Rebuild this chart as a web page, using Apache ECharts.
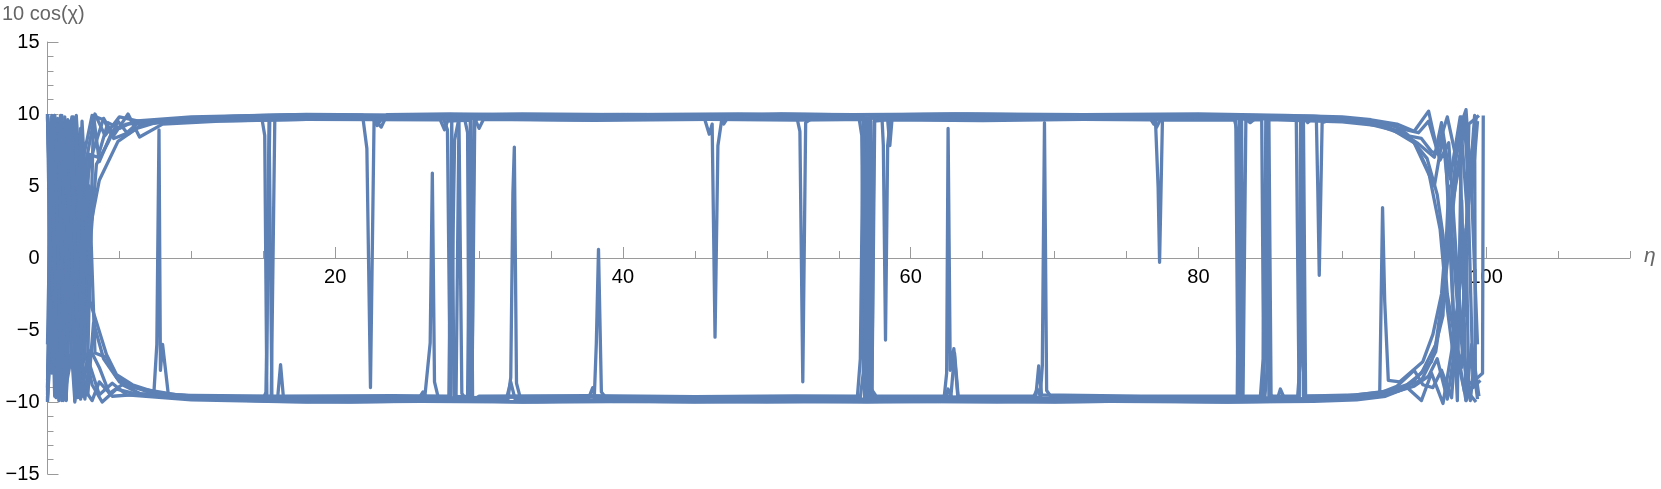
<!DOCTYPE html>
<html>
<head>
<meta charset="utf-8">
<title>10 cos(χ) vs η</title>
<script src="https://cdn.jsdelivr.net/npm/echarts@6/dist/echarts.min.js"></script>
<style>
  html, body { margin: 0; padding: 0; background: #fff; }
  #chart { width: 1661px; height: 489px; }
</style>
</head>
<body>
<div id="chart"></div>
<script>
// axis ticks
const xMin = 0
const xMax = 110
const yMin = -15
const yMax = 15
const xLabelValues = [20, 40, 60, 80, 100]

// trajectories [eta, 10 cos(chi)]
const trajA = [[0,10],[0.5,-9.6],[0.9,6.0],[1.3,-9.8],[1.8,9.8],[2.3,-8.5],[2.6,-6.5],[3.0,2.3],[3.6,5.4],[4.9,8.1],[6.2,9.0],[8.2,9.6],[13,9.85],[17,9.95],[21.9,9.92],[22.2,7.6],[22.3,7.6],[22.45,-9.0],[22.7,9.6],[23.2,9.1],[23.6,9.95],[28,10.0],[34,9.9],[40,9.98],[45.6,9.92],[46.0,8.6],[46.2,9.3],[46.4,-5.5],[46.6,7.8],[46.9,9.85],[51,10.0],[57,9.92],[63,10.0],[69,9.93],[77.0,9.95],[77.2,4.9],[77.3,-0.3],[77.5,9.6],[78,9.95],[83,9.9],[88,9.85],[91,9.65],[93.5,9.3],[94.5,8.6],[95.9,6.9],[96.6,4.4],[97.0,1.6],[97.3,-2.5],[97.8,-5.5],[98.3,-7.6],[98.6,2.0],[98.8,-9.4],[99.3,-10.0]]
const trajB = [[0,-9.0],[0.4,9.8],[0.8,-9.9],[1.2,3.0],[1.5,9.5],[2.0,-9.7],[2.5,8.0],[2.95,-3.0],[4.1,-6.7],[4.8,-8.1],[5.9,-8.8],[7.4,-9.3],[7.6,-6.0],[7.75,8.9],[7.85,-7.8],[8.0,-6.0],[8.4,-9.5],[11,-9.8],[16,-9.95],[21,-10.0],[26.2,-9.92],[26.6,-5.9],[26.75,5.9],[26.9,-8.6],[27.2,-9.85],[33,-10.0],[38.0,-9.9],[38.15,-5.9],[38.3,0.6],[38.5,-9.3],[39,-9.95],[45,-10.0],[51,-9.93],[57,-10.0],[62.3,-9.95],[62.5,-8.0],[62.6,9.0],[62.75,-7.8],[63.0,-6.3],[63.3,-9.9],[70,-10.0],[76,-9.92],[82,-10.0],[88,-9.9],[91,-9.7],[92.6,-9.55],[92.8,3.5],[92.95,-3.0],[93.2,-8.5],[94.0,-8.6],[95.6,-7.2],[96.3,-5.3],[96.9,-2.5],[97.1,0.0],[97.6,3.5],[98.2,6.8],[98.5,-4.0],[98.8,9.3],[99.5,9.9]]
const trajC = [[0,4.7],[0.45,4.9],[1.0,2.0],[1.4,-6.5],[1.8,9.6],[2.3,-9.0],[2.8,-7.0],[3.2,9.9],[3.6,6.7],[4.5,8.8],[5.5,9.3],[8,9.5],[12,9.65],[14.9,9.7],[15.1,8.5],[15.25,-9.8],[15.55,-9.9],[15.8,9.6],[16.3,9.72],[21,9.68],[27.5,9.75],[27.8,8.9],[28.0,-9.9],[28.3,8.2],[28.6,9.7],[35,9.75],[42,9.65],[52.1,9.72],[52.3,8.8],[52.5,-8.6],[52.7,9.4],[53.2,9.75],[60,9.68],[67,9.76],[74,9.66],[80,9.72],[88.2,9.62],[88.3,4.7],[88.4,-1.2],[88.6,9.4],[89.2,9.6],[92,9.35],[94,8.8],[95.2,8.0],[96.4,7.0],[96.9,9.4],[97.5,5.5],[98.2,9.8],[98.7,3.0],[99.2,9.9],[99.25,-8.3]]
const trajD = [[0,-9.5],[0.5,9.9],[0.9,-9.6],[1.3,7.5],[1.7,9.8],[2.1,-9.7],[2.5,-6.5],[2.9,5.0],[3.3,-6.6],[4.1,-6.9],[4.8,-8.3],[6,-9.0],[9,-9.5],[12,-9.7],[15.0,-9.75],[15.2,-9.3],[15.45,9.6],[15.7,9.8],[21,9.85],[29,9.78],[36,9.85],[44,9.8],[50,9.86],[56.4,9.8],[56.6,8.5],[56.8,-9.9],[57.0,-9.5],[57.3,-9.75],[63,-9.8],[70,-9.72],[78,-9.8],[84.3,-9.75],[84.5,-7.0],[84.7,9.75],[85,9.8],[90,9.7],[93,9.2],[95,8.1],[96,6.0],[96.8,2.0],[97.3,-3.5],[97.9,-8.2],[98.3,4.0],[98.6,-9.9],[99.0,-6.0],[99.5,-9.6]]
const trajE = [[0,9.9],[0.3,-8.0],[0.7,9.7],[1.1,-9.9],[1.6,-7.2],[2.0,9.9],[2.4,3.0],[3.0,6.9],[3.9,9.7],[4.6,8.5],[5.6,10.0],[6.4,8.4],[8,9.3],[12,9.5],[18,9.62],[24,9.68],[29.0,9.65],[29.2,8.7],[29.3,-9.8],[29.5,-9.6],[29.7,9.6],[30,9.66],[37,9.6],[45,9.68],[53,9.62],[57.0,9.66],[57.1,-9.8],[57.3,-9.9],[57.5,9.6],[57.7,9.65],[64,9.6],[72,9.68],[82.5,9.63],[82.7,8.8],[82.9,-9.8],[83.2,-9.9],[88,-9.88],[92,-9.65],[94,-9.2],[95.5,-8.0],[96.5,-6.0],[97.2,-1.0],[97.6,4.0],[98.1,8.8],[98.6,10.3],[99.0,4.5],[99.4,9.5]]
const trajF = [[0,-8.5],[0.5,-1.0],[0.9,9.9],[1.3,-9.8],[1.7,8.5],[2.1,-6.5],[2.6,-9.8],[3.0,-6.4],[3.6,-7.6],[4.3,-9.4],[5.2,-8.8],[6.5,-9.45],[9,-9.55],[14,-9.65],[16.0,-9.7],[16.2,-7.4],[16.4,-9.7],[24,-9.66],[28.2,-9.72],[28.4,-9.5],[28.6,9.6],[28.8,-9.4],[29.0,-9.7],[36,-9.65],[44,-9.72],[51,-9.66],[56.5,-9.7],[56.7,-8.0],[56.9,9.6],[57.1,-8.8],[57.4,-9.7],[64,-9.65],[69.0,-9.7],[69.15,-7.5],[69.3,9.4],[69.45,-9.2],[69.8,-9.7],[76,-9.66],[83,-9.72],[87.0,-9.7],[87.1,9.7],[87.3,9.6],[87.45,-9.6],[90,-9.6],[93,-9.3],[94.8,-8.7],[96.2,-7.2],[97.0,-4.0],[97.4,5.0],[97.8,-6.0],[98.5,-9.3],[99.0,-9.8]]
const trajG = [[0,9.7],[0.6,-8.8],[1.0,9.9],[1.5,-4.0],[1.9,-9.9],[2.4,9.5],[2.9,0.0],[3.4,6.5],[4.2,8.0],[4.9,9.5],[5.6,8.6],[6.6,9.3],[9,9.6],[14,9.78],[20,9.88],[27,9.82],[32,9.9],[40,9.84],[47,9.9],[56.7,9.86],[56.9,-9.6],[57.1,-9.85],[57.2,9.7],[57.5,9.9],[58.0,9.85],[58.1,7.8],[58.25,-5.7],[58.4,7.8],[58.6,9.8],[66,9.88],[74,9.82],[83.0,9.86],[83.1,-9.6],[83.3,9.7],[84.0,9.85],[86.8,9.8],[87.0,-9.8],[87.2,9.6],[88,9.8],[91,9.5],[93.5,8.9],[95.0,8.0],[96.4,5.0],[97.0,8.5],[97.6,2.0],[98.1,-4.5],[98.7,-8.8],[99.2,-8.5]]
const trajH = [[0,-9.7],[0.4,-4.0],[0.9,8.0],[1.3,-9.9],[1.8,9.0],[2.3,-7.5],[2.8,-9.5],[3.2,-4.5],[3.9,-7.0],[5.0,-8.6],[7,-9.3],[10,-9.6],[15,-9.8],[22,-9.86],[30,-9.82],[32.0,-9.85],[32.2,-8.3],[32.35,4.5],[32.45,7.7],[32.6,-8.7],[32.9,-9.85],[40,-9.88],[48,-9.82],[55,-9.88],[62,-9.84],[70,-9.88],[78,-9.82],[84.6,-9.85],[84.8,-7.5],[84.9,9.6],[85.05,-9.5],[85.4,-9.85],[90,-9.75],[93,-9.5],[95,-8.9],[96,-8.2],[96.6,-7.0],[97.3,-9.8],[97.9,-5.8],[98.6,-9.9],[99.2,-8.5],[99.75,-8.0],[99.8,9.9]]
const trajI = [[0,10],[0.4,3.5],[0.8,-9.9],[1.2,9.8],[1.6,-5.0],[2.0,9.7],[2.4,-9.6],[2.7,6.8],[3.3,10.0],[4.0,8.5],[5.0,9.8],[7,9.35],[11,9.5],[15,9.58],[18,9.62],[27.3,9.6],[27.6,8.9],[27.8,9.5],[29.4,9.58],[29.5,-9.8],[29.65,9.8],[30.0,9.0],[30.3,9.62],[38,9.56],[46,9.62],[52,9.58],[57.2,9.62],[57.3,-9.7],[57.45,9.5],[58.4,9.6],[58.55,7.8],[58.7,9.6],[65,9.55],[72,9.62],[76.8,9.6],[77.1,9.1],[77.35,9.6],[82.6,9.58],[82.75,-9.9],[82.9,9.7],[83.5,9.6],[84.4,9.6],[84.55,-9.8],[84.7,9.6],[85.5,9.6],[90,9.45],[92.5,9.2],[94.5,8.5],[95.5,8.3],[96.2,7.4],[97.2,7.0],[98.0,-9.9],[98.3,9.8],[98.9,7.0],[99.4,-6.0]]
const trajJ = [[0,-9.9],[0.5,9.9],[0.9,-6.5],[1.3,-9.5],[1.7,9.0],[2.0,2.0],[2.5,-9.0],[3.1,-9.9],[3.6,-8.6],[4.5,-9.6],[6.5,-9.45],[10,-9.55],[16,-9.6],[24,-9.56],[27.9,-9.6],[28.1,9.7],[28.25,-9.6],[28.6,-9.62],[29.2,-9.6],[29.4,9.8],[29.55,-9.9],[30,-9.6],[37.5,-9.56],[45,-9.62],[52,-9.58],[56.3,-9.6],[56.5,-7.0],[56.7,9.7],[56.9,-9.2],[57.0,9.5],[57.2,-9.0],[57.6,-9.6],[62.8,-9.58],[63.05,-6.6],[63.3,-9.6],[68.7,-9.6],[68.9,-7.5],[69.1,-9.5],[76,-9.6],[82.7,-9.58],[82.85,9.7],[83.0,-9.6],[84.4,-9.6],[84.6,-6.8],[84.75,9.6],[84.9,-9.6],[86.9,-9.6],[87.05,-7.5],[87.15,9.6],[87.3,-9.6],[91,-9.5],[93.5,-9.2],[95.5,-8.5],[96.5,-6.5],[97.0,-3.0],[97.5,1.5],[97.9,5.5],[98.5,9.2],[98.8,5.0],[99.3,9.9]]
const trajK = [[0,9.8],[0.6,5.0],[1.0,-9.9],[1.4,9.6],[1.8,6.5],[2.2,-8.0],[2.5,7.0],[3.1,9.9],[3.9,9.6],[4.6,8.3],[5.4,8.6],[6.2,9.3],[8.5,9.5],[12,9.68],[18,9.76],[22.6,9.74],[22.9,9.2],[23.3,9.75],[30,9.72],[37,9.78],[46.8,9.74],[47.0,9.3],[47.3,9.76],[55,9.72],[62,9.78],[70,9.74],[76.6,9.76],[76.9,9.3],[77.2,9.75],[83.2,9.7],[83.6,9.4],[84.0,9.72],[87.4,9.74],[87.6,9.4],[87.9,9.7],[91,9.5],[93,9.35],[94,9.0],[95.3,8.7],[96.0,9.5],[96.8,6.8],[97.4,8.0],[98.0,-1.0],[98.4,-6.2],[98.9,-9.9],[99.2,-7.0]]
const trajL = [[0,-9.2],[0.3,9.8],[0.8,7.0],[1.2,-9.5],[1.6,6.0],[1.9,-10.0],[2.3,9.0],[2.6,-6.5],[3.1,-8.8],[3.8,-10.0],[4.8,-9.1],[6,-9.4],[9,-9.6],[15.2,-9.78],[15.4,9.7],[15.6,-9.8],[16.3,-9.8],[25.8,-9.76],[26.1,-9.3],[26.4,-9.8],[31.9,-9.78],[32.2,-8.6],[32.5,-9.8],[37.6,-9.76],[37.9,-9.0],[38.1,-9.78],[45,-9.8],[53,-9.76],[56.8,-9.8],[57.0,-8.8],[57.15,-9.85],[60.5,-9.78],[62.4,-9.8],[62.6,-9.1],[62.9,-9.8],[68.5,-9.76],[68.8,-9.1],[69.1,-9.8],[74,-9.78],[82,-9.8],[85.5,-9.76],[85.7,-9.1],[86.0,-9.8],[90,-9.7],[92.3,-9.5],[93.8,-8.9],[95.0,-7.8],[95.6,-8.8],[96.3,-9.0],[96.9,-7.8],[97.6,-9.7],[98.1,-3.0],[98.6,-8.0],[99.0,-6.5],[99.4,-9.8]]
const trajM = [[0,-6.0],[0.3,9.9],[0.7,-9.5],[1.2,-1.5],[1.7,9.6],[2.1,-9.0],[2.4,-4.0],[2.9,7.2],[3.5,7.0],[4.2,9.4],[5.0,9.0],[6,9.5],[10,9.8],[18,9.98],[25,9.92],[33,10.0],[40,9.95],[48,10.0],[56,9.95],[64,10.0],[72,9.95],[80,10.0],[86,9.9],[90,9.8],[92,9.6],[93.8,9.3],[95.0,8.8],[96.0,10.2],[96.6,7.5],[97.3,9.8],[97.9,7.0],[98.6,9.9],[99.1,-9.0],[99.6,-8.5]]
const trajN = [[0,-10],[0.2,-3.0],[0.6,-9.7],[1.1,-6.6],[1.6,9.4],[2.0,-2.0],[2.3,-9.8],[2.8,-7.0],[3.6,-9.5],[4.5,-8.7],[5.5,-9.5],[10,-9.85],[18,-10.0],[26,-9.95],[34,-10.0],[42,-9.95],[50,-10.0],[58,-9.95],[66,-10.0],[74,-9.95],[82,-10.0],[88,-9.95],[91,-9.85],[93,-9.6],[94.5,-9.0],[95.5,-9.9],[96.2,-8.0],[97.0,-10.1],[97.6,-6.5],[98.3,-1.0],[98.8,4.0],[99.3,9.8]]

const trajectories = [trajA, trajB, trajC, trajD, trajE, trajF, trajG, trajH, trajI, trajJ, trajK, trajL, trajM, trajN]

const lineColor = '#5e81b5'
const axisColor = '#9a9a9a'
const fontFamily = '"Liberation Sans", Arial, sans-serif'

const chart = echarts.init(document.getElementById('chart'))

// grid 0 holds the data; grids 1 and 2 end at y = 0 and only carry the η axis
const plotLeft = 47.5
const plotRight = 1630
const plotTop = 42
const plotBottom = 474
const unit = (plotRight - plotLeft) / (xMax - xMin)
const zeroY = plotTop + (plotBottom - plotTop) * yMax / (yMax - yMin)
const right100 = 1661 - (plotLeft + 100 * unit)

const option = {
  animation: false,
  backgroundColor: '#fff',
  grid: [
    { left: plotLeft, right: 1661 - plotRight, top: plotTop, bottom: 489 - plotBottom },
    { left: plotLeft, right: 1661 - plotRight, top: plotTop, bottom: 489 - zeroY },
    { left: plotLeft, right: right100, top: plotTop, bottom: 489 - zeroY },
  ],
  xAxis: [
    { type: 'value', gridIndex: 0, min: xMin, max: xMax, show: false },
    {
      type: 'value',
      gridIndex: 1,
      min: xMin,
      max: xMax,
      interval: 5,
      position: 'bottom',
      axisLine: { onZero: false, lineStyle: { color: axisColor, width: 1 } },
      axisTick: { inside: true, length: 7, lineStyle: { color: axisColor } },
      splitLine: { show: false },
      axisLabel: {
        color: '#000',
        fontSize: 20,
        fontFamily,
        margin: 9,
        formatter: (v) => (xLabelValues.includes(v) ? String(v) : ''),
      },
    },
    {
      type: 'value',
      gridIndex: 2,
      min: 0,
      max: 100,
      interval: 20,
      position: 'bottom',
      axisLine: { show: false, onZero: false },
      axisTick: { inside: true, length: 11, lineStyle: { color: axisColor } },
      axisLabel: { show: false },
      splitLine: { show: false },
    },
  ],
  yAxis: [
    {
      type: 'value',
      gridIndex: 0,
      min: yMin,
      max: yMax,
      interval: 5,
      axisLine: { show: true, onZero: false, lineStyle: { color: axisColor, width: 1 } },
      axisTick: { show: true, inside: true, length: 11, lineStyle: { color: axisColor } },
      minorTick: { show: true, splitNumber: 5, length: 6, lineStyle: { color: axisColor } },
      splitLine: { show: false },
      axisLabel: {
        color: '#000',
        fontSize: 20,
        fontFamily,
        margin: 8,
        formatter: (v) => String(v).replace('-', '\u2212'),
      },
    },
    { type: 'value', gridIndex: 1, min: 0, max: 1, show: false },
    { type: 'value', gridIndex: 2, min: 0, max: 1, show: false },
  ],
  graphic: [
    {
      type: 'text',
      left: 2,
      top: 4,
      style: { text: '10 cos(χ)', fill: '#666', font: '20px ' + fontFamily },
    },
    {
      type: 'text',
      left: 1644,
      top: 246,
      style: { text: 'η', fill: '#666', font: 'italic 21px ' + fontFamily },
    },
  ],
  series: trajectories.map((data) => ({
    type: 'line',
    xAxisIndex: 0,
    yAxisIndex: 0,
    data,
    showSymbol: false,
    symbol: 'none',
    lineStyle: { color: lineColor, width: 3.3, join: 'round' },
    silent: true,
  })),
}

chart.setOption(option)
</script>
</body>
</html>
